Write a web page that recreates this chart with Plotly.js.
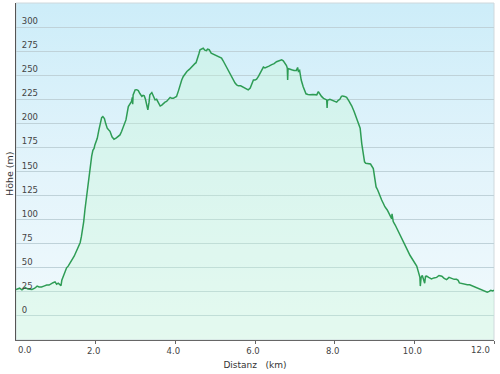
<!DOCTYPE html>
<html>
<head>
<meta charset="utf-8">
<script src="https://cdn.plot.ly/plotly-3.0.1.min.js"></script>
<style>
  html, body { margin: 0; padding: 0; background: #ffffff; }
  #bg { position: absolute; left: 16px; top: 3px; width: 478px; height: 337px;
        background: linear-gradient(to bottom, #cdedf9 0%, #e3f4fb 50%, #f2fafd 100%); z-index: 0; }
  #chart { position: absolute; left: 0; top: 0; width: 500px; height: 374px; z-index: 1; }
</style>
</head>
<body>
<div id="bg"></div>
<div id="chart"></div>
<script>
const distanceKm = [
  0.00,0.09,0.15,0.23,0.30,0.35,0.40,0.47,0.53,0.58,0.64,0.70,0.77,0.83,0.89,0.93,0.98,1.02,1.06,1.10,
  1.13,1.15,1.19,1.22,1.27,1.31,1.36,1.40,1.46,1.51,1.56,1.61,1.64,1.67,1.70,1.73,1.77,1.79,1.82,1.86,
  1.90,1.93,1.96,1.98,2.04,2.08,2.11,2.15,2.18,2.22,2.25,2.29,2.33,2.36,2.41,2.46,2.52,2.57,2.61,2.65,
  2.70,2.76,2.82,2.86,2.90,2.92,2.93,2.94,2.99,3.03,3.07,3.11,3.16,3.19,3.22,3.25,3.28,3.31,3.34,3.36,
  3.41,3.45,3.49,3.53,3.58,3.62,3.66,3.70,3.74,3.78,3.83,3.87,3.91,3.95,3.99,4.03,4.08,4.12,4.16,4.20,
  4.25,4.29,4.35,4.41,4.45,4.49,4.52,4.55,4.59,4.62,4.66,4.70,4.74,4.78,4.81,4.85,4.90,4.95,5.01,5.08,
  5.12,5.16,5.20,5.25,5.31,5.37,5.44,5.50,5.54,5.58,5.64,5.71,5.77,5.83,5.88,5.92,5.96,6.00,6.04,6.09,
  6.13,6.17,6.21,6.25,6.29,6.35,6.42,6.48,6.54,6.60,6.67,6.71,6.75,6.79,6.81,6.82,6.83,6.88,6.92,6.98,
  7.04,7.07,7.09,7.12,7.16,7.21,7.25,7.28,7.33,7.38,7.45,7.55,7.59,7.63,7.67,7.72,7.76,7.80,7.81,7.82,
  7.88,7.92,7.98,8.05,8.09,8.13,8.17,8.20,8.25,8.30,8.36,8.43,8.49,8.55,8.60,8.64,8.68,8.72,8.75,8.78,
  8.84,8.90,8.97,9.00,9.04,9.08,9.13,9.18,9.22,9.26,9.32,9.37,9.40,9.43,9.44,9.47,9.52,9.58,9.64,9.70,
  9.77,9.83,9.89,9.94,9.98,10.02,10.06,10.10,10.14,10.15,10.17,10.20,10.23,10.26,10.28,10.31,10.36,10.43,10.49,10.56,
  10.62,10.69,10.75,10.81,10.87,10.94,11.00,11.06,11.10,11.13,11.20,11.27,11.33,11.39,11.44,11.48,11.55,11.61,11.67,11.73,
  11.78,11.83,11.88,11.92,11.97,12.00
];
const elevationM = [
  27.5,28.8,27,29.5,28,28,27.5,28.8,31,30,30,31,32,32,33,34.5,35.4,33,34,32,
  31.5,37,42,45.8,50,51.7,54.5,58,62,66.6,71,76,82,89,98,110,123.8,130.8,145,158.6,
  166,172,174,177.6,184.5,193,200,206,207,205,200,195,193,191.7,186,183.5,185,187,188,191.5,
  197,203.6,217.5,220,222.7,227,220,229.6,234.8,235,234,231,228,229,228.5,225,218,214,222,229.6,
  232,228,224.4,225,221,218,219,221,222,222.7,225,227,226,226,227,228,234,240,245,248.7,
  252,253.9,256,259,260,262,263,266,272,276.5,277,278,276,275.6,277,276.5,273,272,271,269.5,
  268,267.8,265,261,256,252,246,241.8,240,239,239,237.6,236,234.8,236.6,241,245,245,246,249,
  252,256,258.5,257.5,258,259.5,261,262,264,265,266,265,262.6,260,257.4,245,257,256,255.7,255,
  255,258,254,255,245,238,233,230.7,230,229.6,230,229.6,233,230,228,226,225,224.4,216,224,
  225,224.4,223,222,224,225,228,228.5,228,227,223,218,212,205,200,195,179,165.5,160,158.6,
  158,157.8,153,145,134,130.8,125,120.4,117,113.4,110,106.5,104,101,106,98,94.4,89,84,79,
  73.6,68,63,60,57,54,51.7,46,40,31,40,42,39,34,41,41.3,40,38.5,39.5,40,
  42,41.3,39,37.7,40,39,38,38,37,34.3,33.5,33,32.5,32.4,31.5,31,29.5,28.5,27.5,26.7,
  25.5,24.7,25.5,26.7,26,26.7
];
const yTickVals = [0,25,50,75,100,125,150,175,200,225,250,275,300];
const yTickText = ['0','25','50','75','100','125','150','175','200','225','250','275','300'];
const xTickVals = [0,2,4,6,8,10,12];
const xTickText = ['0.0','2.0','4.0','6.0','8.0','10.0','12.0'];

const font = 'DejaVu Sans, Verdana, sans-serif';
const last = xTickText.length - 1;

// inner x labels drawn by the axis; the two edge labels are kept inside the plot
// edges (as in the original) by anchoring them on their tick values
const xAxisLabels = xTickText.map((t, i) => (i === 0 || i === last) ? '' : t);
const edgeLabel = (i, anchor, shift) => ({
  text: xTickText[i], xref: 'x', yref: 'paper', x: xTickVals[i], y: 0,
  xanchor: anchor, yanchor: 'middle', xshift: shift, yshift: -10,
  showarrow: false, font: { family: font, size: 8.5, color: '#444' }
});

const trace = {
  x: distanceKm, y: elevationM, type: 'scatter', mode: 'lines',
  line: { color: '#2e9c55', width: 1.5 },
  fill: 'tozeroy', fillcolor: 'rgba(200,250,212,0.32)',
  hoverinfo: 'x+y'
};

const layout = {
  width: 500, height: 374,
  margin: { l: 16, r: 6, t: 3, b: 34 },
  paper_bgcolor: 'rgba(0,0,0,0)', plot_bgcolor: 'rgba(0,0,0,0)',
  showlegend: false,
  font: { family: font, size: 8.5, color: '#444' },
  xaxis: {
    range: [0, 12], tickvals: xTickVals, ticktext: xAxisLabels,
    showgrid: false, zeroline: false,
    showline: true, linecolor: '#666', linewidth: 1,
    ticks: 'outside', ticklen: 3, tickcolor: '#666',
    ticklabelshift: -2,
    tickfont: { family: font, size: 8.5, color: '#444' },
    title: { text: 'Distanz\u00a0\u00a0\u00a0(km)', font: { family: font, size: 9, color: '#333' }, standoff: 6 }
  },
  yaxis: {
    range: [-25, 325], tickvals: yTickVals, ticktext: yTickText,
    showgrid: true, gridcolor: '#bfd2d9', gridwidth: 1, zeroline: false,
    showline: true, linecolor: '#555', linewidth: 1,
    ticks: '', ticklabelposition: 'inside top', ticklabelstandoff: 4,
    tickfont: { family: font, size: 8.5, color: '#444' }
  },
  annotations: [
    { text: 'Höhe (m)', xref: 'paper', yref: 'paper', x: 0, y: 0.5,
      xanchor: 'center', yanchor: 'middle', xshift: -6.5, yshift: -2,
      textangle: -90, showarrow: false,
      font: { family: font, size: 9.5, color: '#333' } },
    edgeLabel(0, 'left', 0),
    edgeLabel(last, 'right', -2)
  ],
  shapes: [
    { type: 'rect', xref: 'paper', yref: 'y', x0: 0, x1: 1, y0: -25, y1: 0,
      fillcolor: 'rgba(200,250,212,0.32)', line: { width: 0 }, layer: 'below' },
    { type: 'rect', xref: 'paper', yref: 'paper', x0: 0, x1: 1, y0: 0, y1: 1,
      fillcolor: 'rgba(0,0,0,0)', line: { color: '#cfd8dc', width: 1 }, layer: 'below' }
  ]
};

Plotly.newPlot('chart', [trace], layout, { displayModeBar: false, staticPlot: true });
</script>
</body>
</html>
